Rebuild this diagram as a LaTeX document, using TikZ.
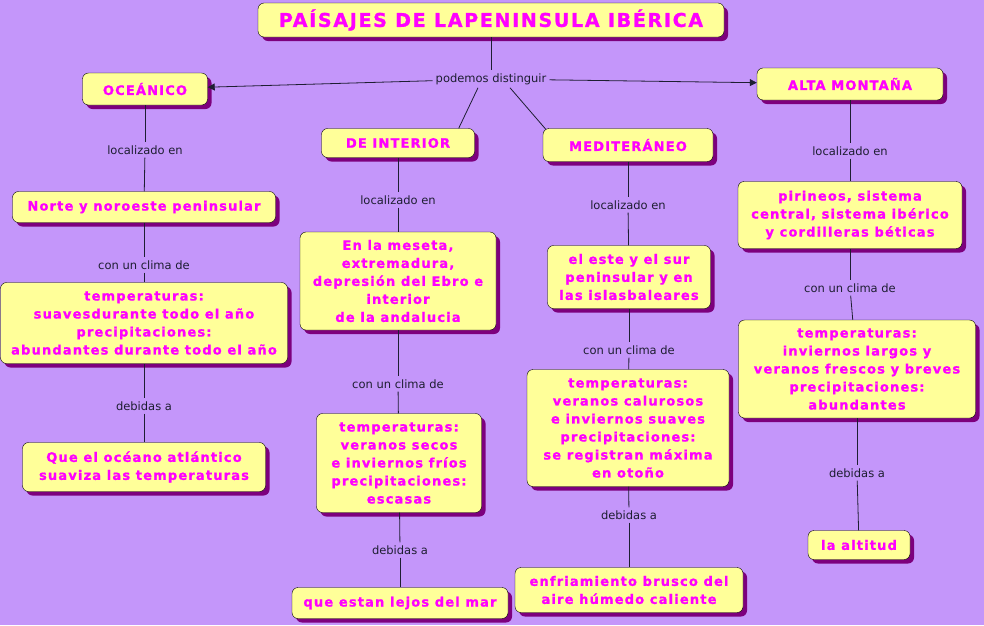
\documentclass[tikz,border=0pt]{standalone}
\usepackage{fontspec}
\setmainfont{DejaVu Sans}
\newfontfamily\boxfont{DejaVu Sans}[LetterSpace=9, BoldFeatures={FakeBold=1.2}]
\usetikzlibrary{positioning,arrows.meta,calc,shadows}
\definecolor{mpBack}{RGB}{196,150,250}
\definecolor{mpYellow}{RGB}{255,255,153}
\definecolor{mpMagenta}{RGB}{255,0,255}
\definecolor{mpShadow}{RGB}{125,0,125}
\definecolor{mpInk}{RGB}{30,30,50}

\begin{document}
\begin{tikzpicture}[x=1pt, y=-1pt,
    box/.style={draw=black, fill=mpYellow, rounded corners=6pt, text=mpMagenta,
      font=\boxfont\bfseries\fontsize{13}{18}\selectfont, align=center, inner sep=2pt,
      drop shadow={shadow xshift=4pt, shadow yshift=-4pt, fill=mpShadow, opacity=1}},
    lbl/.style={text=mpInk, font=\fontsize{11.5}{13}\selectfont, inner sep=3pt},
    conn/.style={draw=mpInk, line width=0.8pt}]
  % background
  \fill[mpBack] (0,0) rectangle (984,625);
  \useasboundingbox (0,0) rectangle (984,625);

  % title and first level
  \node[box, minimum width=466pt, minimum height=34pt, font=\boxfont\bfseries\fontsize{19}{22}\selectfont] (title) at (491,20) {PAÍSAJES DE LAPENINSULA IBÉRICA};
  \node[lbl] (pd) at (491,79) {podemos distinguir};

  \node[box, minimum width=125pt, minimum height=32pt] (oce) at (145,89) {OCEÁNICO};
  \node[box, minimum width=153pt, minimum height=29pt] (int) at (398,143) {DE INTERIOR};
  \node[box, minimum width=170pt, minimum height=33pt] (med) at (628,145) {MEDITERÁNEO};
  \node[box, minimum width=186pt, minimum height=32pt] (alta) at (850,84) {ALTA MONTAÑA};

  % oceanico
  \node[lbl] (oceLoc) at (145,150) {localizado en};
  \node[box, minimum width=263pt, minimum height=31pt] (oceZona) at (144,207) {Norte y noroeste peninsular};
  \node[lbl] (oceCli) at (144,265) {con un clima de};
  \node[box, minimum width=287pt, minimum height=81pt] (oceTemp) at (144,323) {temperaturas:\\suavesdurante todo el año\\precipitaciones:\\abundantes durante todo el año};
  \node[lbl] (oceDeb) at (144,406) {debidas a};
  \node[box, minimum width=243pt, minimum height=49pt] (oceCausa) at (144,467) {Que el océano atlántico\\ suaviza las temperaturas};

  % interior
  \node[lbl] (intLoc) at (398,200) {localizado en};
  \node[box, minimum width=196pt, minimum height=98pt] (intZona) at (398,281) {En la meseta,\\ extremadura,\\depresión del Ebro e\\interior\\de la andalucia};
  \node[lbl] (intCli) at (398,384) {con un clima de};
  \node[box, minimum width=165pt, minimum height=99pt] (intTemp) at (399,463) {temperaturas:\\veranos secos\\e inviernos fríos\\precipitaciones:\\escasas};
  \node[lbl] (intDeb) at (400,550) {debidas a};
  \node[box, minimum width=216pt, minimum height=31pt] (intCausa) at (400,603) {que estan lejos del mar};

  % mediterraneo
  \node[lbl] (medLoc) at (628,205) {localizado en};
  \node[box, minimum width=163pt, minimum height=63pt] (medZona) at (629,277) {el este y el sur\\peninsular y en\\las islasbaleares};
  \node[lbl] (medCli) at (629,350) {con un clima de};
  \node[box, minimum width=202pt, minimum height=117pt] (medTemp) at (628,428) {temperaturas:\\veranos calurosos\\ e inviernos suaves\\precipitaciones:\\se registran máxima\\en otoño};
  \node[lbl] (medDeb) at (629,515) {debidas a};
  \node[box, minimum width=228pt, minimum height=45pt] (medCausa) at (629,590) {enfriamiento brusco del\\aire húmedo caliente};

  % alta montaña
  \node[lbl] (altaLoc) at (850,151) {localizado en};
  \node[box, minimum width=224pt, minimum height=67pt] (altaZona) at (850,215) {pirineos, sistema\\central, sistema ibérico\\y cordilleras béticas};
  \node[lbl] (altaCli) at (850,288) {con un clima de};
  \node[box, minimum width=237pt, minimum height=98pt] (altaTemp) at (857,369) {temperaturas:\\inviernos largos y\\veranos frescos y breves\\precipitaciones:\\abundantes};
  \node[lbl] (altaDeb) at (857,473) {debidas a};
  \node[box, minimum width=102pt, minimum height=29pt] (altaCausa) at (859,545) {la altitud};

  % connectors
  \draw[conn] (title) -- (pd);
  \draw[conn, -{Triangle[length=7pt, width=7pt]}] (pd) -- (oce);
  \draw[conn, -{Triangle[length=7pt, width=7pt]}] (pd) -- (alta);
  \draw[conn] ($(pd.south)+(-13,0)$) -- ($(int.north east)+(-16,0)$);
  \draw[conn] ($(pd.south)+(19,0)$) -- ($(med.north west)+(3,1)$);
  \foreach \a/\b in {oce/oceLoc, oceLoc/oceZona, oceZona/oceCli, oceCli/oceTemp, oceTemp/oceDeb, oceDeb/oceCausa,
      int/intLoc, intLoc/intZona, intZona/intCli, intCli/intTemp, intTemp/intDeb, intDeb/intCausa,
      med/medLoc, medLoc/medZona, medZona/medCli, medCli/medTemp, medTemp/medDeb, medDeb/medCausa,
      alta/altaLoc, altaLoc/altaZona, altaZona/altaCli, altaCli/altaTemp, altaTemp/altaDeb, altaDeb/altaCausa}
    \draw[conn] (\a) -- (\b);
\end{tikzpicture}
\end{document}
